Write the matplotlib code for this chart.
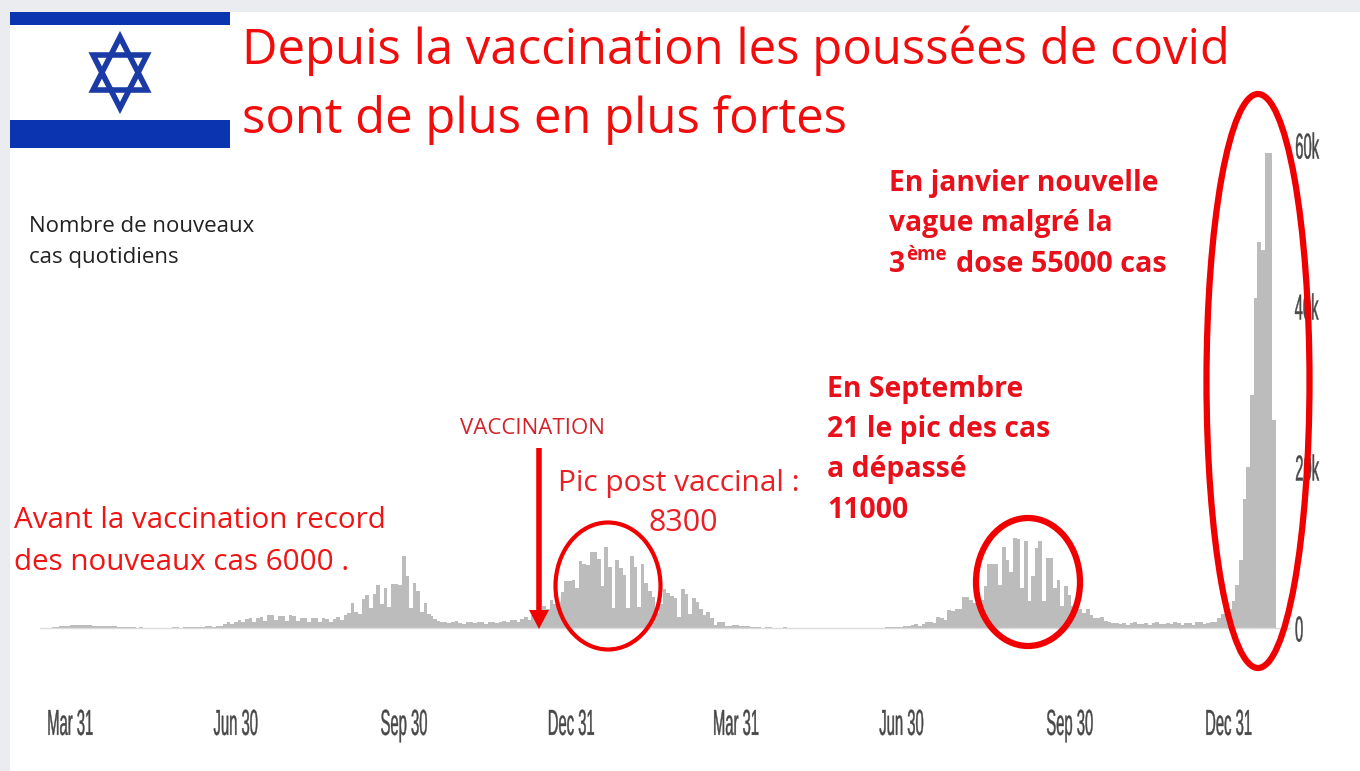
import matplotlib
matplotlib.use("Agg")
import matplotlib.pyplot as plt
from matplotlib.patches import Ellipse, Rectangle, Polygon
from matplotlib.patheffects import AbstractPathEffect
from matplotlib.transforms import Affine2D

# ---- data: daily new cases (thousands), 2-day bins ----
STEP_DAYS = 2
wave0_start = -14
wave0 = [.05,.05,.1,.15,.25,.3,.3,.35,.35,.4,.4,.35,.35,.3,.3,.25,.3,.25,.2,.2,
         .15,.15,.1,.1,.1,.05,.1,.05,.05,.05,.05,.05,.05,.05,.05,.1,.1,.05,.1,.1,.1,.1,.15,.15,.2,.2,.15,.2]
wave1_start = 82
wave1 = [.3,.5,.7,.5,.8,1.0,.7,1.1,1.3,.8,1.3,1.4,.9,
         1.6,1.6,1.0,1.5,1.5,.9,1.6,1.5,.9,1.3,1.3,.8,1.3,1.2,.7,1.2,1.1,.8,1.1,1.4,1.0]
wave2_start = 150
wave2 = [1.6,1.9,3.1,2.0,1.7,3.6,4.1,2.5,4.2,5.4,3.0,5.0,2.6,5.5,5.5,5.4,8.9,6.5,2.5,5.6,4.6,2.0,3.1,1.8]
low1_start = 197
low1 = [1.5,1.1,.9,.8,.8,.6,.7,.9,.6,.5,.7,.8,.6,.7,.8,.5,.8,.8,.6,.8,.9,.7,1.0,1.0,.7,1.1,1.4,1.0,1.6,1.7,1.2]
wave3_start = 259
wave3 = [2.7,2.4,3.5,3.0,3.2,4.5,5.8,5.9,6.0,5.0,8.3,8.0,7.8,9.5,9.4,8.6,5.2,10.1,7.6,2.5,8.5,7.5,6.6,2.5,8.9,7.6,2.6,
         7.9,5.6,4.6,3.9,1.9,3.0,4.8,4.4,4.0,3.7,1.4,4.8,4.2,1.7,3.7,3.2,2.4,1.6,2.0,1.2,.4,.8,.7,.3,.2,.4,.4,.2,.2,.2,.1]
low2_start = 375
low2 = [.1,.1,.05,.1,.1,.05,.05,.05,.1,.05,.05,.05,.05,.05,.05,.05,.05,.05,.05,.05,.05,.05,.05,.05,.05,.05,.05,.05,.05,.05,.05,.05,.05,.05,.05,.05]
wave4_start = 447
wave4 = [.1,.1,.15,.1,.15,.2,.2,.4,.5,.3,.5,.7,.8,.6,1.4,1.3,1.0,2.2,2.1,2.3,2.4,3.9,3.8,3.5,3.1,3.3,3.5,5.2,8.0,7.9,7.9,
         5.4,10.1,8.5,7.0,11.2,11.0,5.0,10.8,3.3,6.5,9.9,10.8,3.4,8.7,8.7,5.0,6.0,2.7,5.2,4.1,2.7,2.4,2.3,1.9,2.3,1.6,1.2,1.3,1.4,.9,.8,.6,.6]
low3_start = 575
low3 = [.5,.6,.4,.6,.7,.5,.5,.6,.4,.6,.7,.5,.5,.6,.5,.7,.6,.4,.6,.6,.4,.7,.7,.5,.6,.7,.6]
wave5_start = 627
wave5 = [.8,1.2,1.8,1.7,2.4,3.4,5.3,8.5,16,20,29,41,48,47,59,59,25.8]

tick_days = [0, 91, 183, 274.6, 365, 456, 548, 635]
tick_labels = ["Mar 31", "Jun 30", "Sep 30", "Dec 31", "Mar 31", "Jun 30", "Sep 30", "Dec 31"]
y_ticks = [0, 20, 40, 60]
y_labels = ["0", "20k", "40k", "60k"]

segments = [(wave0_start, wave0), (wave1_start, wave1), (wave2_start, wave2), (low1_start, low1),
            (wave3_start, wave3), (low2_start, low2), (wave4_start, wave4), (low3_start, low3), (wave5_start, wave5)]

W, H = 1360, 771
RED = "#f00d0d"
FONT = ["Open Sans", "DejaVu Sans"]
TICKFONT = ["Liberation Sans", "DejaVu Sans"]


class Squeeze(AbstractPathEffect):
    """Narrow a text horizontally, as in the stretched screenshot of the axis labels."""
    def __init__(self, sx, anchor="center"):
        super().__init__()
        self.sx, self.anchor = sx, anchor

    def draw_path(self, renderer, gc, tpath, affine, rgbFace=None):
        e = tpath.get_extents()
        c = (e.x0 + e.x1) / 2 if self.anchor == "center" else e.x0
        tr = Affine2D().translate(-c, 0).scale(self.sx, 1).translate(c, 0) + affine
        gc0 = renderer.new_gc()
        gc0.copy_properties(gc)
        gc0.set_linewidth(0.3)
        gc0.set_foreground(rgbFace)
        renderer.draw_path(gc0, tpath, tr, rgbFace)
        gc0.restore()


fig = plt.figure(figsize=(W / 100, H / 100), dpi=100, facecolor="#ebecef")

# white slide
bg = fig.add_axes([0, 0, 1, 1], zorder=0)
bg.set_xlim(0, W); bg.set_ylim(H, 0); bg.axis("off")
bg.add_patch(Rectangle((10, 12), W - 10, H - 12, fc="white", ec="none"))

# chart axes: x in days, y in thousands of cases
L, R, B, T = 40, 1290, 628, 129
ax = fig.add_axes([L / W, 1 - B / H, (R - L) / W, (B - T) / H], zorder=1)
ax.patch.set_alpha(0)
ax.set_xlim(-16.4, 668.9)
ax.set_ylim(0, 62)
for s in ax.spines.values():
    s.set_visible(False)
for start, vals in segments:
    xs = [start + i * STEP_DAYS for i in range(len(vals))]
    ax.bar(xs, vals, width=STEP_DAYS, align="edge", color="#bcbcbc", linewidth=0)
ax.axhline(0, color="#dcdcdc", lw=1, clip_on=False)
ax.set_xticks(tick_days, tick_labels, family=TICKFONT, fontsize=26, color="#484848")
ax.tick_params(axis="x", length=0, pad=57.5)
for t in ax.get_xticklabels():
    t.set_path_effects([Squeeze(0.41)])
ax.yaxis.tick_right()
ax.set_yticks(y_ticks, y_labels, family=TICKFONT, fontsize=26, color="#484848")
ax.tick_params(axis="y", length=0, pad=3)
for t in ax.get_yticklabels():
    t.set_path_effects([Squeeze(0.41, anchor="left")])

# overlay in image pixels: flag, annotations
ov = fig.add_axes([0, 0, 1, 1], zorder=2)
ov.set_xlim(0, W); ov.set_ylim(H, 0); ov.axis("off"); ov.patch.set_alpha(0)

BLUE = "#0b35b0"
ov.add_patch(Rectangle((10, 12), 220, 13, fc=BLUE, ec="none"))
ov.add_patch(Rectangle((10, 120), 220, 28, fc=BLUE, ec="none"))
ov.add_patch(Polygon([(120, 37), (147, 90), (93, 90)], closed=True, fill=False, ec="#1a3aa5", lw=4))
ov.add_patch(Polygon([(120, 108), (147, 55), (93, 55)], closed=True, fill=False, ec="#1a3aa5", lw=4))

ov.add_patch(Ellipse((608, 586), 105, 127, fill=False, ec="#f00000", lw=3))
ov.add_patch(Ellipse((1028, 582), 104, 128, fill=False, ec="#f00000", lw=4.5))
ov.add_patch(Ellipse((1258, 381), 103, 574, fill=False, ec="#f00000", lw=4.5))

ov.plot([539, 539], [448, 612], color="#f00000", lw=4, solid_capstyle="butt")
ov.add_patch(Polygon([(529, 610), (549, 610), (539, 629)], closed=True, fc="#f00000", ec="none"))


def txt(x, y, s, size, color=RED, weight="normal", ha="left"):
    ov.text(x, y, s, fontsize=size, color=color, fontweight=weight, family=FONT, ha=ha, va="center")


txt(242, 51, "Depuis la vaccination les poussées de covid", 35.3)
txt(242, 120, "sont de plus en plus fortes", 35.3)
txt(29, 226, "Nombre de nouveaux", 16, color="#222222")
txt(29, 257, "cas quotidiens", 16, color="#222222")
txt(460, 428, "VACCINATION", 16, color="#d2232a")
txt(558, 484, "Pic post vaccinal :", 21.5, color="#ea2027")
txt(649, 523, "8300", 22, color="#ea2027")
txt(14, 521, "Avant la vaccination record", 21.3, color="#f01515")
txt(14, 562, "des nouveaux cas 6000 .", 21.3, color="#f01515")
for yy, line in zip([389, 429, 470, 511], ["En Septembre", "21 le pic des cas", "a dépassé", "11000"]):
    txt(827, yy, line, 20.4, color="#e8101a", weight="bold")
for yy, line in zip([183, 223], ["En janvier nouvelle", "vague malgré la"]):
    txt(889, yy, line, 20.3, color="#e8101a", weight="bold")
txt(889, 264, "3", 20.3, color="#e8101a", weight="bold")
txt(906, 255, "ème", 13.5, color="#e8101a", weight="bold")
txt(956, 264, "dose 55000 cas", 20.8, color="#e8101a", weight="bold")

fig.savefig("out.png", dpi=100, facecolor=fig.get_facecolor())
